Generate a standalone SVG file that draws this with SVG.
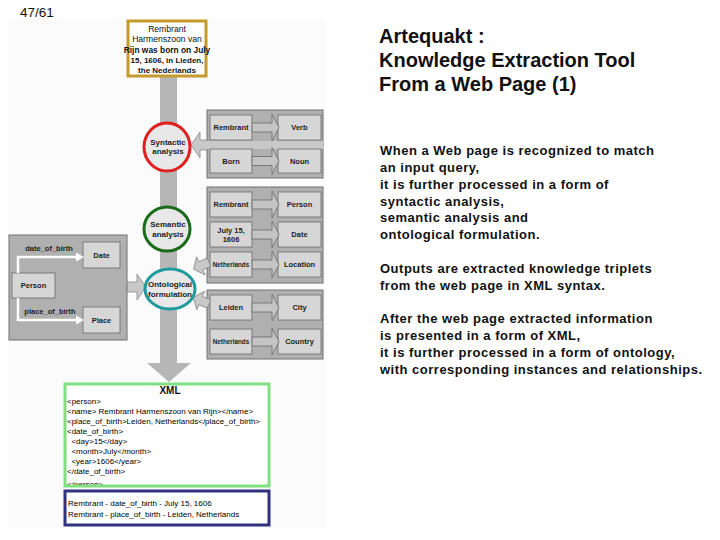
<svg xmlns="http://www.w3.org/2000/svg" width="720" height="540" viewBox="0 0 720 540">
<defs>
<style>
text{font-family:"Liberation Sans",Arial,sans-serif;fill:#111}
.pg{font-size:13.5px}
.title{font-size:20px;font-weight:bold}
.body{font-size:13px;font-weight:bold;letter-spacing:0.5px}
.panel{fill:#b0b0b0;stroke:#707070;stroke-width:1}
.ib{fill:#d6d6d6;stroke:#6a6a6a;stroke-width:0.8}
.lb{font-size:7.5px;font-weight:bold;text-anchor:middle;fill:#222}
.sm{font-size:6.3px;font-weight:bold;text-anchor:middle;fill:#222}
.cl{font-size:8px;font-weight:bold;text-anchor:middle;fill:#222}
.blk{fill:#c4c4c4;stroke:#6a6a6a;stroke-width:0.8}
.big{fill:#c8c8c8;stroke:#8a8a8a;stroke-width:0.8}
.xml{font-size:8px;fill:#000}
.tb{font-size:8.6px;text-anchor:middle;fill:#111}
.wl{fill:none;stroke:#fff;stroke-width:2.5}
</style>
<path id="ba" d="M0,-4.5 H20 V-13.5 L27,0 L20,13.5 V4.5 H0 Z"/>
<clipPath id="xclip"><rect x="65" y="384" width="204" height="101"/></clipPath>
</defs>
<rect x="0" y="0" width="720" height="540" fill="#fff"/>
<rect x="8" y="19" width="318" height="509" fill="#fbfbfb"/>
<text class="pg" x="20" y="17">47/61</text>

<g id="main-shaft">
<rect x="160" y="77" width="17" height="287" fill="#b6b6b6"/>
<polygon points="147,363 191,363 169,382" fill="#b6b6b6"/>
</g>

<g id="connectors">
<g id="arrow-syntactic">
<rect x="207" y="141" width="116" height="8" fill="#c8c8c8"/>
</g>
</g>

<g id="top-box">
<rect x="128" y="21" width="78" height="55" fill="#fff" stroke="#c49a2a" stroke-width="3"/>
<text class="tb" x="167" y="32">Rembrant</text>
<text class="tb" x="167" y="42">Harmenszoon van</text>
<text class="tb" x="167" y="53" style="font-weight:bold;font-size:8.4px">Rijn was born on July</text>
<text class="tb" x="167" y="63" style="font-weight:bold;font-size:8px">15, 1606, in Lieden,</text>
<text class="tb" x="167" y="73" style="font-weight:bold;font-size:8px">the Nederlands</text>
</g>

<g id="panel-syntactic">
<rect class="panel" x="207" y="110" width="116" height="68"/>
<rect x="207" y="141" width="116" height="8" fill="#c8c8c8"/>
<rect class="ib" x="210" y="115" width="42" height="25"/>
<rect class="ib" x="210" y="149" width="42" height="24"/>
<rect class="ib" x="278" y="115" width="43" height="25"/>
<rect class="ib" x="278" y="149" width="43" height="24"/>
<use href="#ba" class="blk" transform="translate(252,127.5)"/>
<use href="#ba" class="blk" transform="translate(252,161)"/>
<text class="lb" x="231" y="130">Rembrant</text>
<text class="lb" x="231" y="164">Born</text>
<text class="lb" x="299.5" y="130">Verb</text>
<text class="lb" x="299.5" y="164">Noun</text>
<path class="big" d="M207,140 H200 V132 L191,145 L200,158 V150 H207"/>
</g>

<g id="panel-semantic">
<rect class="panel" x="207" y="187" width="116" height="96"/>
<rect class="ib" x="210" y="192" width="42" height="25"/>
<rect class="ib" x="210" y="222" width="42" height="25"/>
<rect class="ib" x="210" y="252" width="42" height="25"/>
<rect class="ib" x="278" y="192" width="43" height="25"/>
<rect class="ib" x="278" y="222" width="43" height="25"/>
<rect class="ib" x="278" y="252" width="43" height="25"/>
<use href="#ba" class="blk" transform="translate(252,204.5)"/>
<use href="#ba" class="blk" transform="translate(252,234.5)"/>
<use href="#ba" class="blk" transform="translate(252,264.5)"/>
<text class="lb" x="231" y="207">Rembrant</text>
<text class="lb" x="231" y="233">July 15,</text>
<text class="lb" x="231" y="242">1606</text>
<text class="sm" x="231" y="267">Netherlands</text>
<text class="lb" x="299.5" y="207">Person</text>
<text class="lb" x="299.5" y="237">Date</text>
<text class="lb" x="299.5" y="267">Location</text>
</g>

<g id="panel-ontology-instances">
<rect class="panel" x="207" y="290" width="116" height="69"/>
<rect class="ib" x="210" y="295" width="42" height="25"/>
<rect class="ib" x="210" y="329" width="42" height="25"/>
<rect class="ib" x="278" y="295" width="43" height="25"/>
<rect class="ib" x="278" y="329" width="43" height="25"/>
<use href="#ba" class="blk" transform="translate(252,307.5)"/>
<use href="#ba" class="blk" transform="translate(252,341.5)"/>
<text class="lb" x="231" y="310">Leiden</text>
<text class="sm" x="231" y="344">Netherlands</text>
<text class="lb" x="299.5" y="310">City</text>
<text class="lb" x="299.5" y="344">Country</text>
</g>

<g id="arrows-to-ontological">
<path class="big" d="M0,-4.5 H9 V-10 L17,0 L9,10 V4.5 H0 Z" transform="translate(209,262) rotate(155)"/>
<path class="big" d="M0,-4.5 H9 V-10 L17,0 L9,10 V4.5 H0 Z" transform="translate(209,304) rotate(203)"/>
<path class="big" d="M127,282 H137 V274 L146,287 L137,300 V292 H127"/>
</g>

<g id="panel-ontology">
<rect class="panel" x="9" y="235" width="118" height="105"/>
<rect class="ib" x="12" y="273" width="43" height="25"/>
<rect class="ib" x="83" y="242" width="37" height="26"/>
<rect class="ib" x="83" y="307" width="37" height="26"/>
<path class="wl" d="M18,273 V257 H77"/>
<polygon points="76,252.5 84,257 76,261.5" fill="#fff"/>
<path class="wl" d="M18,298 V320 H77"/>
<polygon points="76,315.5 84,320 76,324.5" fill="#fff"/>
<text class="lb" x="49" y="251">date_of_birth</text>
<text class="lb" x="50" y="314">place_of_birth</text>
<text class="lb" x="33.5" y="288">Person</text>
<text class="lb" x="101.5" y="258">Date</text>
<text class="lb" x="101.5" y="323">Place</text>
</g>

<g id="circle-syntactic">
<ellipse cx="167" cy="147" rx="23" ry="24" fill="#e8e8e8" stroke="#e02020" stroke-width="3"/>
<text class="cl" x="168" y="145">Syntactic</text>
<text class="cl" x="168" y="154">analysis</text>
</g>
<g id="circle-semantic">
<ellipse cx="167" cy="229" rx="23" ry="22" fill="#e8e8e8" stroke="#1a6b1a" stroke-width="3"/>
<text class="cl" x="168" y="227">Semantic</text>
<text class="cl" x="168" y="237">analysis</text>
</g>
<g id="circle-ontological">
<ellipse cx="170" cy="289" rx="25" ry="20" fill="#e8e8e8" stroke="#1f9a9a" stroke-width="3"/>
<text class="cl" x="170" y="287">Ontological</text>
<text class="cl" x="170" y="297">formulation</text>
</g>

<g id="xml-box">
<rect x="65" y="384" width="204" height="102" fill="#fff"/>
<text x="170" y="394" style="font-size:10px;font-weight:bold;text-anchor:middle">XML</text>
<g clip-path="url(#xclip)">
<text class="xml" x="67" y="404">&lt;person&gt;</text>
<text class="xml" x="67" y="414">&lt;name&gt; Rembrant Harmenszoon van Rijn&gt;&lt;/name&gt;</text>
<text class="xml" x="67" y="424">&lt;place_of_birth&gt;Leiden, Netherlands&lt;/place_of_birth&gt;</text>
<text class="xml" x="67" y="434">&lt;date_of_birth&gt;</text>
<text class="xml" x="67" y="444">&#160;&#160;&lt;day&gt;15&lt;/day&gt;</text>
<text class="xml" x="67" y="454">&#160;&#160;&lt;month&gt;July&lt;/month&gt;</text>
<text class="xml" x="67" y="464">&#160;&#160;&lt;year&gt;1606&lt;/year&gt;</text>
<text class="xml" x="67" y="474">&lt;/date_of_birth&gt;</text>
<text class="xml" x="67" y="487">&lt;/person&gt;</text>
</g>
<rect x="65" y="384" width="204" height="102" fill="none" stroke="#80e080" stroke-width="3"/>
</g>

<g id="triplet-box">
<rect x="65" y="491" width="204" height="34" fill="#fff" stroke="#303080" stroke-width="3"/>
<text class="xml" x="68" y="506">Rembrant - date_of_birth - July 15, 1606</text>
<text class="xml" x="68" y="517">Rembrant - place_of_birth - Leiden, Netherlands</text>
</g>

<g id="title">
<text class="title" x="379" y="43">Artequakt :</text>
<text class="title" x="379" y="67">Knowledge Extraction Tool</text>
<text class="title" x="379" y="91">From a Web Page (1)</text>
</g>
<g id="description">
<text class="body" x="380" y="155">When a Web page is recognized to match</text>
<text class="body" x="380" y="172">an input query,</text>
<text class="body" x="380" y="189">it is further processed in a form of</text>
<text class="body" x="380" y="206">syntactic analysis,</text>
<text class="body" x="380" y="222">semantic analysis and</text>
<text class="body" x="380" y="239">ontological formulation.</text>
<text class="body" x="380" y="273">Outputs are extracted knowledge triplets</text>
<text class="body" x="380" y="290">from the web page in XML syntax.</text>
<text class="body" x="380" y="323">After the web page extracted information</text>
<text class="body" x="380" y="340">is presented in a form of XML,</text>
<text class="body" x="380" y="357">it is further processed in a form of ontology,</text>
<text class="body" x="380" y="374">with corresponding instances and relationships.</text>
</g>
</svg>
